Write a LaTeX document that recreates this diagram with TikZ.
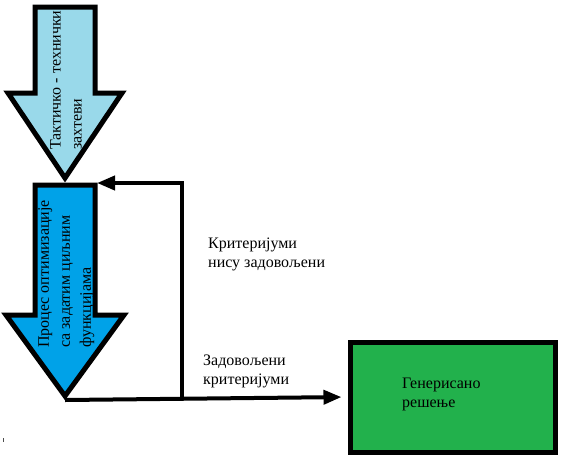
\documentclass[tikz,border=0pt]{standalone}
\usepackage{fontspec}
\setmainfont{Liberation Serif}
\usetikzlibrary{arrows.meta}
\definecolor{reqblue}{HTML}{99D9EA}
\definecolor{optblue}{HTML}{00A2E8}
\definecolor{solgreen}{HTML}{22B14C}

\begin{document}
\begin{tikzpicture}[x=1pt, y=1pt,
	every node/.style={font=\fontsize{16}{19}\selectfont, inner sep=0pt},
	bigarrow/.style={draw=black, line width=5pt, line join=miter},
	conn/.style={line width=4pt, line join=miter, -{Triangle[length=18pt, width=14pt]}},
	vtext/.style={rotate=90, anchor=north west, align=left, font=\fontsize{16}{21}\selectfont},
	lbl/.style={anchor=north west, align=left},
	box/.style={draw=black, fill=solgreen, line width=5pt, minimum width=205pt, minimum height=110pt}]
	\useasboundingbox (0,0) rectangle (569,-474);
	% requirements arrow
	\draw[bigarrow, fill=reqblue] (35,-7) -- (95,-7) -- (95,-93) -- (122,-93) -- (65,-178) -- (8,-93) -- (35,-93) -- cycle;
	\node[vtext] (req) at (50,-150) {Тактичко - технички\\захтеви};
	% optimisation arrow
	\draw[bigarrow, fill=optblue] (35,-185) -- (95,-185) -- (95,-315) -- (124,-315) -- (65,-396) -- (6,-315) -- (35,-315) -- cycle;
	\node[vtext] (opt) at (38,-348) {Процес оптимизације\\са задатим циљним\\функцијама};
	\coordinate (opt-in) at (97,-183);
	\coordinate (opt-tip) at (65,-400);
	\coordinate (loop) at (182,-400);
	% generated solution
	\node[box] (sol) at (452.5,-397) {};
	\node[lbl] (soltext) at (402,-378) {Генерисано\\решење};
	% connectors
	\draw[conn, shorten >=6pt] (opt-tip) -- (sol.west);
	\draw[conn] (loop) |- (opt-in);
	\node[lbl] (notmet) at (208,-238) {Критеријуми\\нису задовољени};
	\node[lbl] (met) at (203,-355) {Задовољени\\критеријуми};
	\draw[line width=1pt, black!70] (3,-438) -- (3,-442);
\end{tikzpicture}
\end{document}
